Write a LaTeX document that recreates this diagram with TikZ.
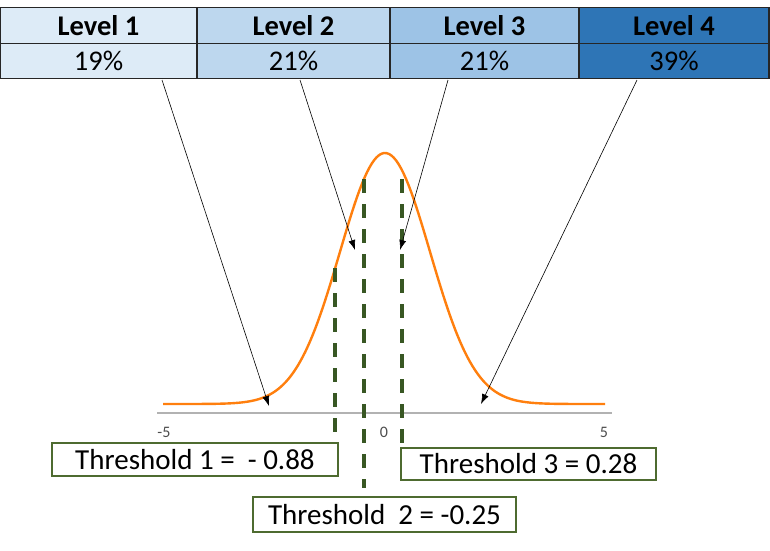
\documentclass[tikz,border=0pt]{standalone}
\usepackage{fontspec}
\setmainfont{Carlito}
\usetikzlibrary{arrows.meta}

\definecolor{lvlone}{HTML}{DDEBF7}
\definecolor{lvltwo}{HTML}{BDD7EE}
\definecolor{lvlthree}{HTML}{9DC3E6}
\definecolor{lvlfour}{HTML}{2E75B6}
\definecolor{curveorange}{HTML}{FF7F0E}
\definecolor{threshgreen}{HTML}{385723}
\definecolor{boxgreen}{HTML}{4E6B30}

\tikzset{
  cell/.style={draw=black!85,line width=1.2pt,inner sep=0pt,minimum height=35.5pt},
  headcell/.style={cell,font=\fontsize{28.5}{30}\selectfont\bfseries},
  valcell/.style={cell,font=\fontsize{28.5}{30}\selectfont},
  threshbox/.style={draw=boxgreen,line width=1.2pt,fill=white,inner sep=0pt,font=\fontsize{29}{31}\selectfont},
  threshline/.style={threshgreen,line width=3.6pt,dash pattern=on 14pt off 11pt},
  pointer/.style={-{Latex[length=10pt,width=7pt]},line width=0.6pt,black},
  ticklabel/.style={font=\fontsize{16}{17}\selectfont,text=black!70}
}

\begin{document}
\begin{tikzpicture}[x=1pt,y=-1pt]
\useasboundingbox (0,0) rectangle (770,550);

% table of levels
\node[headcell,fill=lvlone,minimum width=197pt] (h1) at (98.5,25.5) {Level 1};
\node[headcell,fill=lvltwo,minimum width=193pt] (h2) at (293.5,25.5) {Level 2};
\node[headcell,fill=lvlthree,minimum width=189pt] (h3) at (484.5,25.5) {Level 3};
\node[headcell,fill=lvlfour,minimum width=190pt] (h4) at (674,25.5) {Level 4};
\node[valcell,fill=lvlone,minimum width=197pt] (v1) at (98.5,61) {19\%};
\node[valcell,fill=lvltwo,minimum width=193pt] (v2) at (293.5,61) {21\%};
\node[valcell,fill=lvlthree,minimum width=189pt] (v3) at (484.5,61) {21\%};
\node[valcell,fill=lvlfour,minimum width=190pt] (v4) at (674,61) {39\%};

% axis and ticks
\draw[gray!60,line width=1.5pt] (157,413) -- (612,413);
\node[ticklabel] (tm5) at (164,432) {-5};
\node[ticklabel] (t0) at (384,432) {0};
\node[ticklabel] (tp5) at (604,432) {5};

% normal curve
\draw[curveorange,line width=2.4pt] plot[domain=163:605,samples=181]
  (\x,{404-251*exp(-((\x-385)/45)*((\x-385)/45)/2)});

% threshold boxes
\node[threshbox,minimum width=286pt,minimum height=33pt] (b1) at (195,459.5) {Threshold 1 =\ \ - 0.88};
\node[threshbox,minimum width=263pt,minimum height=35pt] (b2) at (384.5,514.5) {Threshold\ \ 2 = -0.25};
\node[threshbox,minimum width=255pt,minimum height=32pt] (b3) at (528.5,464) {Threshold 3 = 0.28};

% threshold lines
\coordinate (c1) at (335,268);
\coordinate (c2) at (364,179);
\coordinate (c3) at (402,179);
\draw[threshline] (c1) -- (c1 |- b1.north);
\draw[threshline] (c2) -- (364,488);
\draw[threshline] (c3) -- (c3 |- b3.north);

% pointers from table to curve
\coordinate (p1) at (162,80);
\coordinate (p2) at (300,80);
\coordinate (p3) at (448,80);
\coordinate (p4) at (637,80);
\coordinate (q1) at (269,406);
\coordinate (q2) at (355,250);
\coordinate (q3) at (400,250);
\coordinate (q4) at (481,404);
\draw[pointer] (p1) -- (q1);
\draw[pointer] (p2) -- (q2);
\draw[pointer] (p3) -- (q3);
\draw[pointer] (p4) -- (q4);

\end{tikzpicture}
\end{document}
